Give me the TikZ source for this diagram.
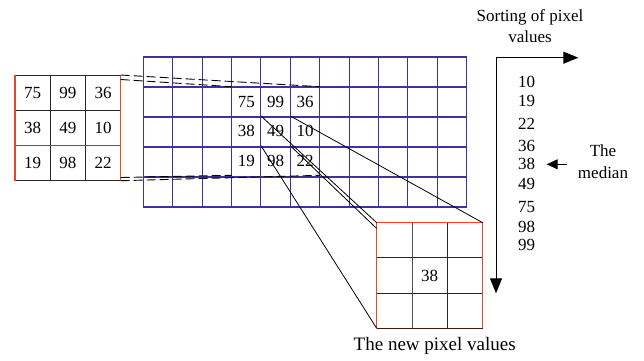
\documentclass[tikz,border=0pt]{standalone}
\usepackage{fontspec}
\setmainfont{Liberation Serif}
\usetikzlibrary{arrows.meta}
\definecolor{gridblue}{RGB}{60,50,160}
\definecolor{boxred}{RGB}{228,72,42}
\definecolor{darkline}{RGB}{40,40,40}
\begin{document}
\begin{tikzpicture}[x=1pt,y=-1pt,
  font=\fontsize{17}{21.5}\selectfont,
  num/.style={inner sep=0pt,anchor=center},
  gridline/.style={draw=gridblue,line width=1.1pt},
  redline/.style={draw=boxred,line width=1.1pt},
  blackline/.style={draw=darkline,line width=1pt},
  dashline/.style={draw=black,line width=0.9pt,dash pattern=on 9pt off 4pt},
  link/.style={draw=black,line width=0.8pt},
  bigarrow/.style={draw=black,line width=1pt,-{Triangle[length=15pt,width=12pt]}},
  smallarrow/.style={draw=black,line width=1pt,-{Triangle[length=11pt,width=10pt]}}]
\useasboundingbox (0,0) rectangle (644,360);

% ---------- blue image grid ----------
\foreach \i in {0,...,11} \draw[gridline] (143.3+\i*29.4,57) -- (143.3+\i*29.4,207);
\foreach \j in {0,...,5} \draw[gridline] (143.3,57+\j*30) -- (466.7,57+\j*30);

% window values inside grid
\node[num] (g11) at (246.4,101.7) {75};
\node[num] (g12) at (275.7,101.7) {99};
\node[num] (g13) at (305.0,101.7) {36};
\node[num] (g21) at (246.4,131.0) {38};
\node[num] (g22) at (275.7,131.0) {49};
\node[num] (g23) at (305.0,131.0) {10};
\node[num] (g31) at (246.4,160.5) {19};
\node[num] (g32) at (275.7,160.5) {98};
\node[num] (g33) at (305.0,160.5) {22};

% window corner coordinates
\coordinate (wTL) at (231.7,86.7);
\coordinate (wTR) at (320.0,86.7);
\coordinate (wBL) at (231.7,175.3);
\coordinate (wBR) at (320.0,175.3);
% centre cell corners
\coordinate (cTL) at (261.0,116.0);
\coordinate (cTR) at (290.3,116.0);
\coordinate (cBL) at (261.0,145.7);
\coordinate (cBR) at (290.3,145.7);

% ---------- left 3x3 box ----------
\coordinate (lTL) at (15,75);
\coordinate (lTR) at (120.7,75);
\coordinate (lBL) at (15,180.7);
\coordinate (lBR) at (120.7,180.7);
\draw[blackline] (50.2,75) -- (50.2,180.7);
\draw[blackline] (85.5,75) -- (85.5,180.7);
\draw[blackline] (15,110.2) -- (120.7,110.2);
\draw[blackline,draw=gray!70!black] (15,145.5) -- (120.7,145.5);
\draw[blackline] (lTL) -- (lTR);
\draw[blackline] (lBL) -- (lBR);
\draw[redline] (lTL) -- (lBL);
\draw[redline] (lTR) -- (lBR);
\node[num] (l11) at (32.6,92.6) {75};
\node[num] (l12) at (67.85,92.6) {99};
\node[num] (l13) at (103.1,92.6) {36};
\node[num] (l21) at (32.6,127.85) {38};
\node[num] (l22) at (67.85,127.85) {49};
\node[num] (l23) at (103.1,127.85) {10};
\node[num] (l31) at (32.6,163.1) {19};
\node[num] (l32) at (67.85,163.1) {98};
\node[num] (l33) at (103.1,163.1) {22};

% dashed projection lines
\coordinate (lTRb) at (120.7,79.5);
\coordinate (lBRb) at (120.7,177.5);
\draw[dashline] (lTR) -- (wTR);
\draw[dashline] (lTRb) -- (wTL);
\draw[dashline] (lBR) -- (wBR);
\draw[dashline] (lBRb) -- (wBL);

% ---------- new 3x3 box ----------
\coordinate (nTL) at (376.7,222.7);
\coordinate (nTR) at (482.7,222.7);
\coordinate (nBL) at (376.7,328.3);
\coordinate (nBR) at (482.7,328.3);
\coordinate (nTLb) at (376.7,228.5);
\draw[blackline,draw=gray!60!black] (412.0,222.7) -- (412.0,328.3);
\draw[blackline] (447.4,222.7) -- (447.4,328.3);
\draw[blackline] (376.7,257.9) -- (482.7,257.9);
\draw[blackline] (376.7,293.1) -- (482.7,293.1);
\draw[blackline,draw=black!70!boxred] (nBL) -- (nBR);
\draw[redline] (nBL) -- (nTL) -- (nTR) -- (nBR);
\node[num] (n22) at (429.7,275.5) {38};
\node[num,font=\fontsize{19}{22}\selectfont] (caption) at (434.7,345.5) {The new pixel values};

% links from centre cell to the new box
\draw[link] (cTL) -- (nTL);
\draw[link] (cBR) -- (nTLb);
\draw[link] (cTR) -- (nTR);
\draw[link] (cBL) -- (nBL);

% ---------- sorting ----------
\coordinate (corner) at (496,57.7);
\coordinate (hend) at (578.3,57.7);
\coordinate (vend) at (496,293.3);
\draw[bigarrow] (corner) -- (hend);
\draw[bigarrow] (corner) -- (vend);
\node[align=center,inner sep=0pt] (sorttitle) at (530,26) {Sorting of pixel\\values};

\node[num] (s1) at (526.7,82.3) {10};
\node[num] (s2) at (526.7,101.0) {19};
\node[num] (s3) at (526.7,124.0) {22};
\node[num] (s4) at (526.7,145.7) {36};
\node[num] (s5) at (526.7,164.3) {38};
\node[num] (s6) at (526.7,184.3) {49};
\node[num] (s7) at (526.7,206.7) {75};
\node[num] (s8) at (526.7,226.7) {98};
\node[num] (s9) at (526.7,245.0) {99};

\node[align=center,inner sep=0pt,font=\fontsize{17}{22}\selectfont] (median) at (603,162) {The\\median};
\coordinate (mstart) at (567.3,164.3);
\coordinate (mtip) at (546.7,164.3);
\draw[smallarrow] (mstart) -- (mtip);
\end{tikzpicture}
\end{document}
